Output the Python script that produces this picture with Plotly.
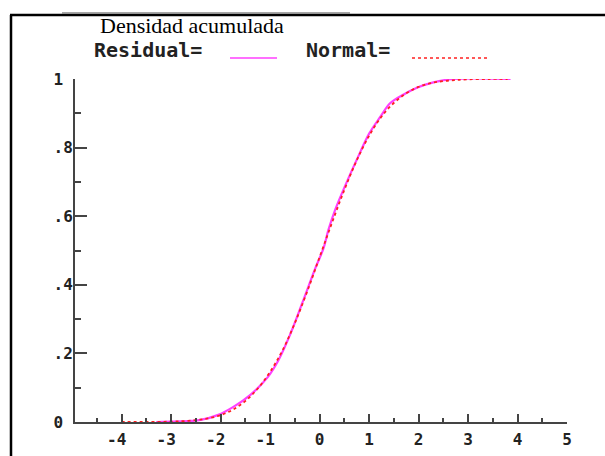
import plotly.graph_objects as go

# ---- data ----
res_x = [-3.3, -2.6, -2.4, -2.06, -1.74, -1.39, -1.05, -0.83, -0.59, -0.34, -0.08, 0.08,
         0.18, 0.32, 0.57, 0.77, 1.0, 1.23, 1.43, 1.7, 1.98, 2.3, 2.7, 3.86]
res_y = [0.0, 0.003, 0.006, 0.02, 0.044, 0.08, 0.13, 0.18, 0.256, 0.35, 0.45, 0.506,
         0.56, 0.62, 0.706, 0.77, 0.84, 0.89, 0.93, 0.955, 0.975, 0.99, 1.0, 1.0]

norm_x = [-4.0, -3.5, -3.0, -2.75, -2.5, -2.25, -2.0, -1.75, -1.5, -1.25, -1.0, -0.75, -0.5,
          -0.25, 0.0, 0.25, 0.5, 0.75, 1.0, 1.25, 1.5, 1.75, 2.0, 2.25, 2.5, 2.75, 3.0, 3.4, 3.8]
norm_y = [0.0, 0.0002, 0.001, 0.0025, 0.0055, 0.0105, 0.02, 0.036, 0.061, 0.097, 0.146, 0.208,
          0.288, 0.38, 0.48, 0.58, 0.676, 0.762, 0.834, 0.89, 0.93, 0.958, 0.977, 0.988,
          0.994, 0.997, 0.999, 1.0, 1.0]

x_ticks = [-4, -3, -2, -1, 0, 1, 2, 3, 4, 5]
x_labels = ["-4\u00a0", "-3\u00a0", "-2\u00a0", "-1\u00a0", "0", "1", "2", "3", "4", "5"]
y_ticks = [0, 0.2, 0.4, 0.6, 0.8, 1]
y_labels = ["0\u00a0", ".2", ".4", ".6", ".8", "1\u00a0"]

title_text = "Densidad acumulada"
leg_res = "Residual="
leg_norm = "Normal="

# ---- geometry ----
W, H = 605, 456
L, R, T, B = 75, 38, 79, 34
PW, PH = W - L - R, H - T - B


def px(x):
    return (x - L) / PW


def py(y):
    return (H - B - y) / PH


MONO = "DejaVu Sans Mono"
AX = "#444444"
TICKFONT = dict(family=MONO, size=16, color="#222", weight="bold")

fig = go.Figure()
fig.add_trace(go.Scatter(x=res_x, y=res_y, mode="lines", line=dict(color="#ff40ff", width=2.2, shape="spline"),
                         name="Residual", showlegend=False, hoverinfo="skip"))
fig.add_trace(go.Scatter(x=norm_x, y=norm_y, mode="lines",
                         line=dict(color="#ff2020", width=1.8, dash="dot", shape="spline"),
                         name="Normal", showlegend=False, hoverinfo="skip"))

fig.update_layout(
    width=W, height=H,
    margin=dict(l=L, r=R, t=T, b=B, pad=0, autoexpand=False),
    paper_bgcolor="white", plot_bgcolor="white",
    xaxis=dict(range=[-4.94, 5.0], tickvals=x_ticks, ticktext=x_labels, showgrid=False, zeroline=False,
               automargin=False,
               showline=True, linecolor=AX, linewidth=2, ticks="inside", ticklen=8, tickwidth=2,
               tickcolor=AX, ticklabelstandoff=2, tickfont=TICKFONT,
               minor=dict(dtick=0.5, tick0=0, ticks="inside", ticklen=4, tickwidth=2, tickcolor=AX)),
    yaxis=dict(range=[0, 1], tickvals=y_ticks, ticktext=y_labels, showgrid=False, zeroline=False,
               automargin=False,
               showline=True, linecolor=AX, linewidth=2, ticks="inside", ticklen=12, tickwidth=2,
               tickcolor=AX, ticklabelstandoff=-3, tickfont=TICKFONT,
               minor=dict(dtick=0.1, tick0=0, ticks="inside", ticklen=6, tickwidth=2, tickcolor=AX)),
    showlegend=False,
)

shapes = [
    dict(type="line", xref="paper", yref="paper", x0=px(10), x1=px(605), y0=py(15), y1=py(15),
         line=dict(color="black", width=2.5)),
    dict(type="line", xref="paper", yref="paper", x0=px(62), x1=px(350), y0=py(13), y1=py(13),
         line=dict(color="#888", width=1.5)),
    dict(type="line", xref="paper", yref="paper", x0=px(11), x1=px(11), y0=py(15), y1=py(456),
         line=dict(color="black", width=2.5)),
    dict(type="line", xref="paper", yref="paper", x0=px(230), x1=px(277), y0=py(58), y1=py(58),
         line=dict(color="#ff40ff", width=1.5)),
    dict(type="line", xref="paper", yref="paper", x0=px(412), x1=px(488), y0=py(58), y1=py(58),
         line=dict(color="#ff2020", width=1.5, dash="dot")),
]
fig.update_layout(shapes=shapes)

fig.add_annotation(text=title_text, xref="paper", yref="paper", x=px(98), y=py(26), xanchor="left",
                   yanchor="middle", showarrow=False,
                   font=dict(family="Liberation Serif", size=22, color="black"))
fig.add_annotation(text="<b>" + leg_res + "</b>", xref="paper", yref="paper", x=px(92), y=py(50),
                   xanchor="left", yanchor="middle", showarrow=False,
                   font=dict(family=MONO, size=20, color="#222"))
fig.add_annotation(text="<b>" + leg_norm + "</b>", xref="paper", yref="paper", x=px(304), y=py(50),
                   xanchor="left", yanchor="middle", showarrow=False,
                   font=dict(family=MONO, size=20, color="#222"))

fig.write_html("out.html")
